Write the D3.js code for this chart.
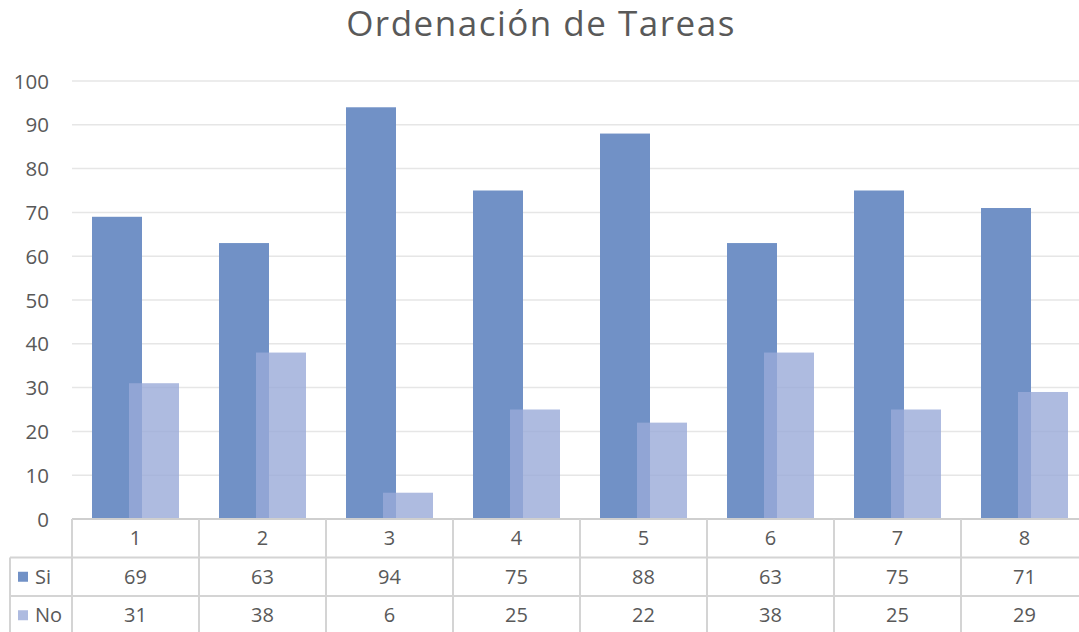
<!DOCTYPE html>
<html>
<head>
<meta charset="utf-8">
<script src="https://cdn.jsdelivr.net/npm/d3@7"></script>
<style>
  html, body { margin: 0; padding: 0; background: #ffffff; }
  svg { display: block; font-family: "Open Sans", sans-serif; }
</style>
</head>
<body>
<svg id="chart" width="1079" height="632"></svg>
<script>
// Task ordering survey: "Si" / "No" answers per task
const categories = ["1", "2", "3", "4", "5", "6", "7", "8"];
const siValues = [69, 63, 94, 75, 88, 63, 75, 71];
const noValues = [31, 38, 6, 25, 22, 38, 25, 29];
const yTicks = [0, 10, 20, 30, 40, 50, 60, 70, 80, 90, 100];
const seriesNames = ["Si", "No"];

const W = 1079, H = 632;
const plot = { left: 72, right: 1088, top: 81, bottom: 519 };
const rowH = 38.5;
const textColor = "#595959";
const gridColor = "#e6e6e6";
const tableColor = "#d4d4d4";
const siColor = "#7191c6";
const noColor = "rgb(154,170,216)";

const svg = d3.select("#chart");

const x = d3.scaleBand()
  .domain(categories)
  .range([plot.left, plot.right])
  .paddingInner(0)
  .paddingOuter(0);

const y = d3.scaleLinear()
  .domain([0, 100])
  .range([plot.bottom, plot.top]);

// Title
svg.append("text")
  .attr("x", 541)
  .attr("y", 36)
  .attr("text-anchor", "middle")
  .attr("fill", textColor)
  .attr("font-size", 35)
  .attr("letter-spacing", 1.5)
  .text("Ordenación de Tareas");

// Horizontal gridlines
svg.append("g")
  .selectAll("line")
  .data(yTicks.filter(d => d > 0))
  .join("line")
  .attr("x1", plot.left)
  .attr("x2", W)
  .attr("y1", d => y(d))
  .attr("y2", d => y(d))
  .attr("stroke", gridColor)
  .attr("stroke-width", 1.5);

// Y axis labels
const yAxis = d3.axisLeft(y).tickValues(yTicks).tickSize(0).tickPadding(0);
const yG = svg.append("g")
  .attr("transform", `translate(${plot.left - 23},0)`)
  .call(yAxis);
yG.select(".domain").remove();
yG.selectAll("text")
  .attr("fill", textColor)
  .attr("font-size", 20.5)
  .attr("font-family", "'Open Sans', sans-serif")
  .attr("dy", "0.35em");

// Bars: each bar is 50px wide, the two series overlap by 13px around the category centre
const bw = 50, half = bw - 6.5;
const bars = svg.append("g");
bars.selectAll("rect.si")
  .data(categories.map((c, i) => ({ c, v: siValues[i] })))
  .join("rect")
  .attr("class", "si")
  .attr("x", d => x(d.c) + x.bandwidth() / 2 - half)
  .attr("width", bw)
  .attr("y", d => y(d.v))
  .attr("height", d => y(0) - y(d.v))
  .attr("fill", siColor);
bars.selectAll("rect.no")
  .data(categories.map((c, i) => ({ c, v: noValues[i] })))
  .join("rect")
  .attr("class", "no")
  .attr("x", d => x(d.c) + x.bandwidth() / 2 - 6.5)
  .attr("width", bw)
  .attr("y", d => y(d.v))
  .attr("height", d => y(0) - y(d.v))
  .attr("fill", noColor)
  .attr("fill-opacity", 0.8);

// Data table beneath the plot
const table = svg.append("g");
const rowTops = [plot.bottom, plot.bottom + rowH, plot.bottom + 2 * rowH];
const tableLeft = 10;

// horizontal rules
table.append("line")
  .attr("x1", plot.left).attr("x2", W)
  .attr("y1", rowTops[0]).attr("y2", rowTops[0])
  .attr("stroke", "#cfcfcf").attr("stroke-width", 2);
[rowTops[1], rowTops[2]].forEach(yy => {
  table.append("line")
    .attr("x1", tableLeft).attr("x2", W)
    .attr("y1", yy).attr("y2", yy)
    .attr("stroke", tableColor).attr("stroke-width", 2);
});
// vertical rules
const boundaries = categories.map(c => x(c));
table.selectAll("line.v")
  .data(boundaries)
  .join("line")
  .attr("class", "v")
  .attr("x1", d => d).attr("x2", d => d)
  .attr("y1", rowTops[0]).attr("y2", H)
  .attr("stroke", tableColor).attr("stroke-width", 2);
table.append("line")
  .attr("x1", tableLeft).attr("x2", tableLeft)
  .attr("y1", rowTops[1]).attr("y2", H)
  .attr("stroke", tableColor).attr("stroke-width", 2);

// category header row
table.selectAll("text.cat")
  .data(categories)
  .join("text")
  .attr("class", "cat")
  .attr("x", d => x(d) + x.bandwidth() / 2)
  .attr("y", rowTops[0] + rowH / 2)
  .attr("dy", "0.36em")
  .attr("text-anchor", "middle")
  .attr("fill", textColor)
  .attr("font-size", 20)
  .text(d => d);

// series rows
const rows = [siValues, noValues];
const keyColors = [siColor, "rgb(174,187,224)"];
rows.forEach((vals, r) => {
  const cy = rowTops[r + 1] + rowH / 2;
  table.append("rect")
    .attr("x", 18).attr("y", cy - 5)
    .attr("width", 10).attr("height", 10)
    .attr("fill", keyColors[r]);
  table.append("text")
    .attr("x", 35).attr("y", cy)
    .attr("dy", "0.36em")
    .attr("fill", textColor)
    .attr("font-size", 20)
    .text(seriesNames[r]);
  table.selectAll(`text.val${r}`)
    .data(vals.map((v, i) => ({ c: categories[i], v })))
    .join("text")
    .attr("class", `val${r}`)
    .attr("x", d => x(d.c) + x.bandwidth() / 2)
    .attr("y", cy)
    .attr("dy", "0.36em")
    .attr("text-anchor", "middle")
    .attr("fill", textColor)
    .attr("font-size", 20)
    .text(d => d.v);
});
</script>
</body>
</html>
